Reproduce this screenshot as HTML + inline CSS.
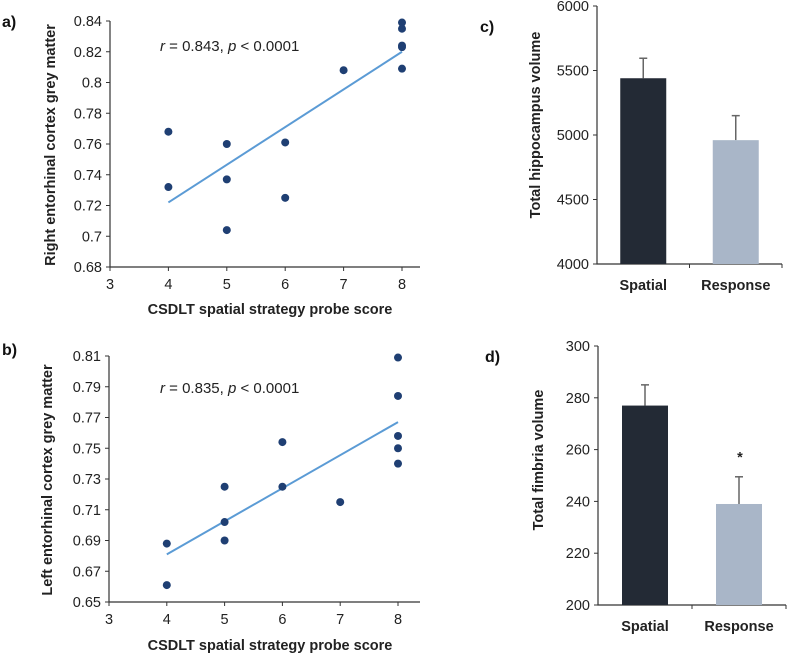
<!DOCTYPE html>
<html><head><meta charset="utf-8"><style>
body{margin:0;background:#fff;}
svg{display:block;font-family:"Liberation Sans Narrow","Liberation Sans",sans-serif;}
.tk{font-size:14.5px;fill:#222;}
.ttl{font-size:14.5px;font-weight:bold;fill:#222;}
.pl{font-size:16px;font-weight:bold;fill:#111;font-family:"Liberation Sans",sans-serif;}
</style></head><body>
<svg id="fig" width="787" height="653" viewBox="0 0 787 653"></svg>
<script>
const aX=[4,4,5,5,5,6,6,7,8,8,8,8,8];
const aY=[0.768,0.732,0.760,0.737,0.704,0.761,0.725,0.808,0.839,0.835,0.824,0.823,0.809];
const aFit=[0.722,0.820];
const aTicksY=[0.68,0.7,0.72,0.74,0.76,0.78,0.8,0.82,0.84];
const bX=[4,4,5,5,5,6,6,7,8,8,8,8,8];
const bY=[0.688,0.661,0.725,0.702,0.690,0.754,0.725,0.715,0.809,0.784,0.758,0.750,0.740];
const bFit=[0.681,0.767];
const bTicksY=[0.65,0.67,0.69,0.71,0.73,0.75,0.77,0.79,0.81];
const xTicks=[3,4,5,6,7,8];
const groups=["Spatial","Response"];
const cVals=[5440,4960];
const cErr=[5595,5150];
const cTicks=[4000,4500,5000,5500,6000];
const dVals=[277,239];
const dErr=[285,249.5];
const dTicks=[200,220,240,260,280,300];
const barColors=["#232a35","#a9b6c8"];

const svg=document.getElementById('fig');
const NS='http://www.w3.org/2000/svg';
function mk(tag,at,parent){const e=document.createElementNS(NS,tag);for(const k in at)e.setAttribute(k,at[k]);(parent||svg).appendChild(e);return e;}
function txt(s,at,cls,parent){const e=mk('text',at,parent);e.setAttribute('class',cls);e.textContent=s;return e;}

function scatter(id,o){
  const g=mk('g',{});
  
  
  const sx=v=>o.x0+(v-3)*(o.x1-o.x0)/5;
  const sy=v=>o.yb+(v-o.ymin)*(o.yt-o.yb)/(o.ymax-o.ymin);
  const ax=mk('path',{d:`M${o.x0} ${o.yt}V${o.yb}H${o.xe}`,stroke:'#333',fill:'none','stroke-width':1.2},g);
  
  
  o.ticks.forEach(t=>{const y=sy(t);mk('line',{x1:o.x0-4,x2:o.x0,y1:y,y2:y,stroke:'#333'},g);
    const l=txt(String(t),{x:o.x0-8,y:y+5,'text-anchor':'end'},'tk',g);
    
    });
  xTicks.forEach(t=>{const x=sx(t);mk('line',{x1:x,x2:x,y1:o.yb,y2:o.yb+4,stroke:'#333'},g);
    const l=txt(String(t),{x:x,y:o.yb+22,'text-anchor':'middle'},'tk',g);
    
    });
  const fl=mk('line',{x1:sx(4),y1:sy(o.fit[0]),x2:sx(8),y2:sy(o.fit[1]),stroke:'#5b9bd5','stroke-width':2},g);
  
  
  o.xs.forEach((v,i)=>{const c=mk('circle',{cx:sx(v),cy:sy(o.ys[i]),r:4,fill:'#1f3f73'},g);
    
    });
  const yt=txt(o.ytitle,{transform:`translate(${o.ytx},${o.yty}) rotate(-90)`,'text-anchor':'middle'},'ttl',g);
  
  
  const xt=txt('CSDLT spatial strategy probe score',{x:270,y:o.xty,'text-anchor':'middle'},'ttl',g);
  
  
  const an=mk('text',{x:160,y:o.anY,'font-size':'15','fill':'#222'},g);
  an.innerHTML='<tspan font-style="italic">r</tspan> = '+o.r+', <tspan font-style="italic">p</tspan> &lt; 0.0001';
  
  
  const pl=txt(o.label,{x:2,y:o.labY},'pl',g);
  
  
}
scatter('a',{x0:110,x1:402,xe:420,yt:21,yb:267,ymin:0.68,ymax:0.84,ticks:aTicksY,xs:aX,ys:aY,fit:aFit,
  ytitle:'Right entorhinal cortex grey matter',ytx:55,yty:145,xty:314,anY:51,r:'0.843',label:'a)',labY:27});
scatter('b',{x0:109,x1:398,xe:420,yt:356,yb:602,ymin:0.65,ymax:0.81,ticks:bTicksY,xs:bX,ys:bY,fit:bFit,
  ytitle:'Left entorhinal cortex grey matter',ytx:52,yty:480,xty:650,anY:393,r:'0.835',label:'b)',labY:355});

function bars(id,o){
  const g=mk('g',{});
  
  
  const sy=v=>o.yb+(v-o.ymin)*(o.yt-o.yb)/(o.ymax-o.ymin);
  const ax=mk('path',{d:`M${o.x0} ${o.yt}V${o.yb}H${o.xe}`,stroke:'#333',fill:'none','stroke-width':1.2},g);
  
  
  o.ticks.forEach(t=>{const y=sy(t);mk('line',{x1:o.x0-4,x2:o.x0,y1:y,y2:y,stroke:'#333'},g);
    const l=txt(String(t),{x:o.x0-8,y:y+5,'text-anchor':'end'},'tk',g);
    
    });
  const slot=(o.xe-o.x0)/2;
  mk('line',{x1:o.x0+slot,x2:o.x0+slot,y1:o.yb,y2:o.yb+4,stroke:'#333'},g);
  mk('line',{x1:o.xe,x2:o.xe,y1:o.yb,y2:o.yb+4,stroke:'#333'},g);
  groups.forEach((nm,i)=>{
    const cx=o.x0+slot*(i+0.5), w=46;
    const e=mk('line',{x1:cx,x2:cx,y1:sy(o.err[i]),y2:sy(o.vals[i]),stroke:'#666','stroke-width':1.5},g);
    
    
    mk('line',{x1:cx-4,x2:cx+4,y1:sy(o.err[i]),y2:sy(o.err[i]),stroke:'#666','stroke-width':1.5},g);
    const r=mk('rect',{x:cx-w/2,y:sy(o.vals[i]),width:w,height:o.yb-sy(o.vals[i]),fill:barColors[i]},g);
    
    
    const l=txt(nm,{x:cx,y:o.yb+26,'text-anchor':'middle'},'ttl',g);
    
    
  });
  const yt=txt(o.ytitle,{transform:`translate(${o.ytx},${o.yty}) rotate(-90)`,'text-anchor':'middle'},'ttl',g);
  
  
  const pl=txt(o.label,{x:o.lx,y:o.ly},'pl',g);
  
  
}
bars('c',{x0:597,xe:782,yt:6,yb:264,ymin:4000,ymax:6000,ticks:cTicks,vals:cVals,err:cErr,
  ytitle:'Total hippocampus volume',ytx:540,yty:125,label:'c)',lx:480,ly:32});
bars('d',{x0:598,xe:786,yt:346,yb:605,ymin:200,ymax:300,ticks:dTicks,vals:dVals,err:dErr,
  ytitle:'Total fimbria volume',ytx:543,yty:460,label:'d)',lx:485,ly:362});
const st=txt('*',{x:740,y:462,'text-anchor':'middle','font-size':'24'},'ttl');


</script>
</body></html>
